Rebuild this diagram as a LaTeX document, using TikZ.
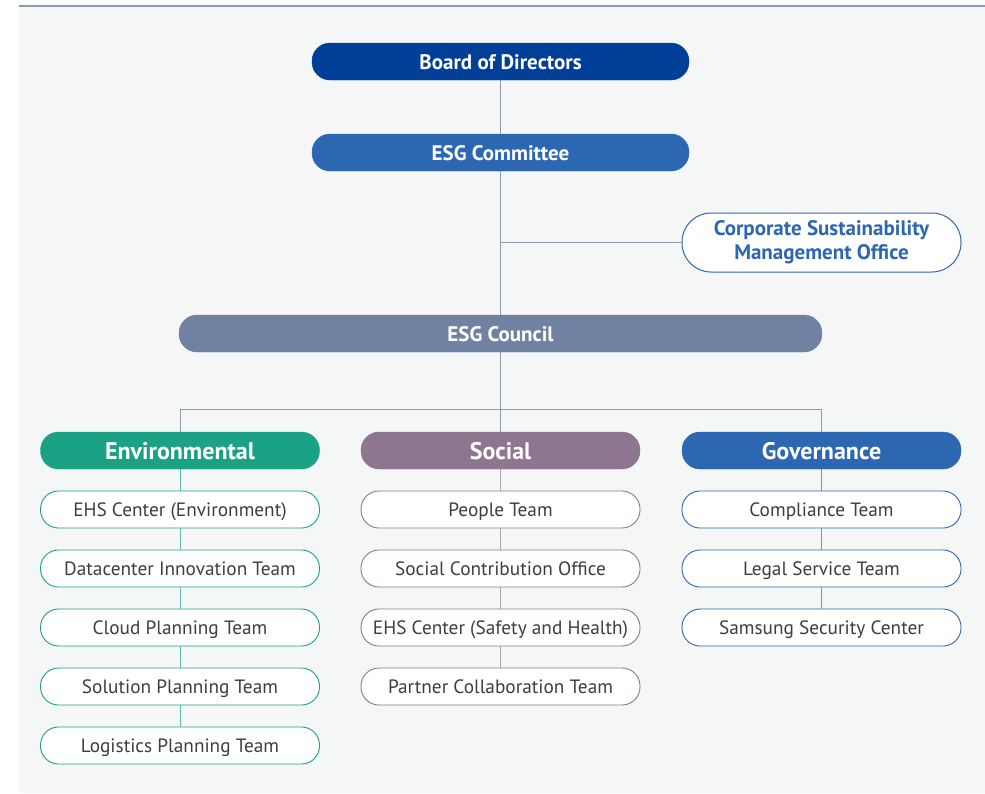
\documentclass[tikz,border=0pt]{standalone}
\usepackage{fontspec}
\setmainfont{PT Sans}
\definecolor{bgc}{HTML}{F5F7F7}
\definecolor{topline}{HTML}{8A9AAE}
\definecolor{boardc}{HTML}{003F98}
\definecolor{commc}{HTML}{2D67B1}
\definecolor{councilc}{HTML}{7181A2}
\definecolor{linec}{HTML}{8D9BB0}
\definecolor{envc}{HTML}{1BA184}
\definecolor{socc}{HTML}{8E7590}
\definecolor{govc}{HTML}{2D67B1}
\definecolor{txtc}{HTML}{3E3E3E}
\tikzset{
  pill/.style={rectangle, rounded corners=18pt, minimum height=37pt, inner sep=0pt, align=center},
  topbox/.style={pill, text height=17pt, text depth=1pt, fill=#1, draw=#1, text=white, font=\fontsize{21}{23}\selectfont\bfseries},
  catbox/.style={pill, text height=19pt, text depth=1pt, minimum width=279pt, fill=#1, draw=#1, text=white, font=\fontsize{24}{26}\selectfont\bfseries},
  subbox/.style={pill, text height=15.5pt, text depth=1pt, minimum width=279pt, fill=white, draw=#1, line width=0.9pt, text=txtc, font=\fontsize{19.3}{22}\selectfont},
  mainline/.style={draw=linec, line width=1pt},
  catline/.style={draw=#1!70!white, line width=1pt},
}
\begin{document}
\begin{tikzpicture}[x=1pt,y=-1pt]
\useasboundingbox (0,0) rectangle (985,793);
\fill[bgc] (19,6) rectangle (985,793);
\draw[topline, line width=1.2pt] (19,6) -- (985,6);

% top chain
\node[topbox=boardc, minimum width=377pt] (board) at (500.5,61.5) {Board of Directors};
\node[topbox=commc, minimum width=377pt] (comm) at (500.5,152.5) {ESG Committee};
\node[pill, minimum width=279pt, minimum height=59pt, fill=white, draw=commc, line width=1pt, text=commc, rounded corners=29pt,
      font=\fontsize{21}{24}\selectfont\bfseries] (csmo) at (821.5,242.5) {Corporate Sustainability\\Management Office};
\node[topbox=councilc, minimum width=643pt] (council) at (500.5,333.5) {ESG Council};

\coordinate (jn) at (500.5,242.5);
\coordinate (bus) at (500.5,409);

% categories
\node[catbox=envc] (env) at (180,450.5) {Environmental};
\node[catbox=socc] (soc) at (500.5,450.5) {Social};
\node[catbox=govc] (gov) at (821.5,450.5) {Governance};

% environmental
\node[subbox=envc] (e1) at (180,509.5) {EHS Center (Environment)};
\node[subbox=envc] (e2) at (180,568.5) {Datacenter Innovation Team};
\node[subbox=envc] (e3) at (180,627.5) {Cloud Planning Team};
\node[subbox=envc] (e4) at (180,686.5) {Solution Planning Team};
\node[subbox=envc] (e5) at (180,745.5) {Logistics Planning Team};

% social
\node[subbox=socc] (s1) at (500.5,509.5) {People Team};
\node[subbox=socc] (s2) at (500.5,568.5) {Social Contribution Office};
\node[subbox=socc] (s3) at (500.5,627.5) {EHS Center (Safety and Health)};
\node[subbox=socc] (s4) at (500.5,686.5) {Partner Collaboration Team};

% governance
\node[subbox=govc] (g1) at (821.5,509.5) {Compliance Team};
\node[subbox=govc] (g2) at (821.5,568.5) {Legal Service Team};
\node[subbox=govc] (g3) at (821.5,627.5) {Samsung Security Center};

% connectors
\draw[mainline] (board.south) -- (comm.north);
\draw[mainline] (comm.south) -- (council.north);
\draw[mainline] (jn) -- (csmo.west);
\draw[mainline] (council.south) -- (bus);
\draw[mainline] (env.north) -- (env.north |- bus) -- (gov.north |- bus) -- (gov.north);
\draw[mainline] (bus) -- (soc.north);

\draw[catline=envc] (env.south) -- (e1.north) (e1.south) -- (e2.north) (e2.south) -- (e3.north) (e3.south) -- (e4.north) (e4.south) -- (e5.north);
\draw[catline=socc] (soc.south) -- (s1.north) (s1.south) -- (s2.north) (s2.south) -- (s3.north) (s3.south) -- (s4.north);
\draw[catline=govc] (gov.south) -- (g1.north) (g1.south) -- (g2.north) (g2.south) -- (g3.north);
\end{tikzpicture}
\end{document}
